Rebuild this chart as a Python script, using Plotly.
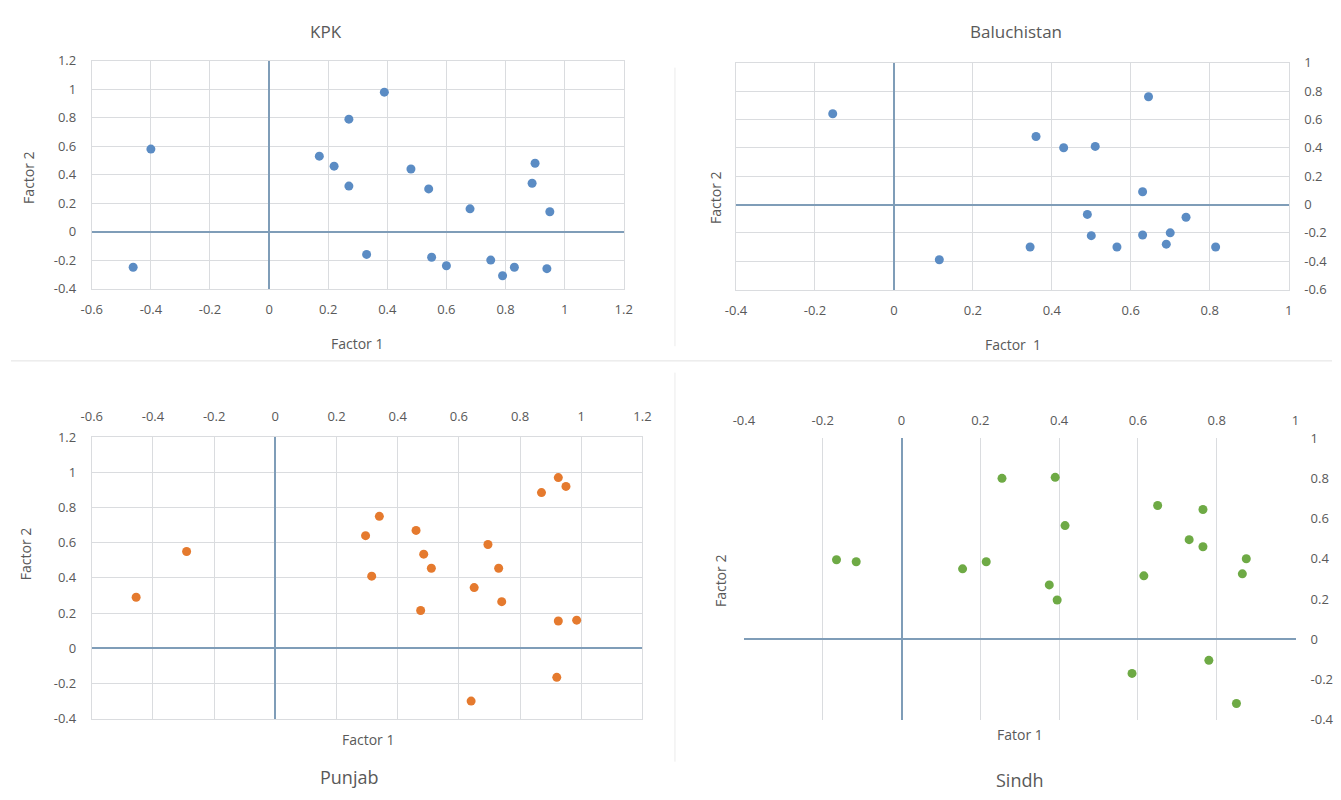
import plotly.graph_objects as go

# ---------------- data ----------------
kpk_x = [-0.46, -0.40, 0.17, 0.22, 0.27, 0.27, 0.39, 0.33, 0.48, 0.54, 0.55, 0.60, 0.68, 0.75, 0.79, 0.83, 0.89, 0.90, 0.94, 0.95]
kpk_y = [-0.25, 0.58, 0.53, 0.46, 0.79, 0.32, 0.98, -0.16, 0.44, 0.30, -0.18, -0.24, 0.16, -0.20, -0.31, -0.25, 0.34, 0.48, -0.26, 0.14]

bal_x = [-0.155, 0.645, 0.36, 0.43, 0.51, 0.63, 0.49, 0.74, 0.50, 0.63, 0.70, 0.69, 0.345, 0.565, 0.815, 0.115]
bal_y = [0.64, 0.76, 0.48, 0.40, 0.41, 0.09, -0.07, -0.09, -0.22, -0.215, -0.20, -0.28, -0.30, -0.30, -0.30, -0.39]

pun_x = [-0.455, -0.29, 0.295, 0.34, 0.315, 0.46, 0.485, 0.51, 0.475, 0.695, 0.73, 0.65, 0.74, 0.64, 0.87, 0.925, 0.95, 0.925, 0.985, 0.92]
pun_y = [0.29, 0.55, 0.64, 0.75, 0.41, 0.67, 0.535, 0.455, 0.215, 0.59, 0.455, 0.345, 0.265, -0.30, 0.885, 0.97, 0.92, 0.155, 0.16, -0.165]

sin_x = [-0.165, -0.115, 0.155, 0.215, 0.255, 0.39, 0.415, 0.375, 0.395, 0.65, 0.615, 0.585, 0.765, 0.73, 0.765, 0.78, 0.875, 0.865, 0.85]
sin_y = [0.395, 0.385, 0.35, 0.385, 0.80, 0.805, 0.565, 0.27, 0.195, 0.665, 0.315, -0.17, 0.645, 0.495, 0.46, -0.105, 0.40, 0.325, -0.32]

ticks_a = [-0.6, -0.4, -0.2, 0, 0.2, 0.4, 0.6, 0.8, 1, 1.2]
ticks_a_txt = ["-0.6", "-0.4", "-0.2", "0", "0.2", "0.4", "0.6", "0.8", "1", "1.2"]
ticks_b = [-0.4, -0.2, 0, 0.2, 0.4, 0.6, 0.8, 1]
ticks_b_txt = ["-0.4", "-0.2", "0", "0.2", "0.4", "0.6", "0.8", "1"]
ticks_c = [-0.6, -0.4, -0.2, 0, 0.2, 0.4, 0.6, 0.8, 1]
ticks_c_txt = ["-0.6", "-0.4", "-0.2", "0", "0.2", "0.4", "0.6", "0.8", "1"]

BLUE = "#5B8CC4"
ORANGE = "#E57A2E"
GREEN = "#6EAA45"
GRID = "#DADCDF"
ZERO = "#7F9DB8"
TXT = "#595959"
FONT = "Open Sans"

W, H = 1341, 800

def dom_x(a, b):
    return [a / W, b / W]

def dom_y(top, bottom):
    return [1 - bottom / H, 1 - top / H]

fig = go.Figure()

MS = 9
fig.add_trace(go.Scatter(x=kpk_x, y=kpk_y, mode="markers", xaxis="x", yaxis="y",
                         marker=dict(color=BLUE, size=MS), showlegend=False))
fig.add_trace(go.Scatter(x=bal_x, y=bal_y, mode="markers", xaxis="x2", yaxis="y2",
                         marker=dict(color=BLUE, size=MS), showlegend=False))
fig.add_trace(go.Scatter(x=pun_x, y=pun_y, mode="markers", xaxis="x3", yaxis="y3",
                         marker=dict(color=ORANGE, size=MS), showlegend=False))
fig.add_trace(go.Scatter(x=sin_x, y=sin_y, mode="markers", xaxis="x4", yaxis="y4",
                         marker=dict(color=GREEN, size=MS), showlegend=False))

tickfont = dict(family=FONT, size=13, color=TXT)

def ax(rng, tv, tt, dom, anchor, side, grid=True, line=True, standoff=10):
    return dict(range=rng, tickvals=tv, ticktext=tt, domain=dom, anchor=anchor, side=side,
                showgrid=grid, gridcolor=GRID, gridwidth=1,
                zeroline=True, zerolinecolor=ZERO, zerolinewidth=1.5,
                showline=line, linecolor=GRID, linewidth=1, mirror=line,
                ticks="", tickfont=tickfont, ticklabelstandoff=standoff,
                fixedrange=True)

layout = dict(
    width=W, height=H,
    margin=dict(l=0, r=0, t=0, b=0),
    paper_bgcolor="white", plot_bgcolor="white",
    font=dict(family=FONT, color=TXT),
    showlegend=False,
    # KPK
    xaxis=ax([-0.6, 1.2], ticks_a, ticks_a_txt, dom_x(82, 622), "y", "bottom", standoff=9),
    yaxis=ax([-0.4, 1.2], ticks_a[1:], ticks_a_txt[1:], dom_y(53, 286), "x", "left", standoff=12),
    # Baluchistan
    xaxis2=ax([-0.4, 1.0], ticks_b, ticks_b_txt, dom_x(736, 1297), "y2", "bottom", standoff=9),
    yaxis2=ax([-0.6, 1.0], ticks_c, ticks_c_txt, dom_y(55, 287), "x2", "right", standoff=12),
    # Punjab
    xaxis3=ax([-0.6, 1.2], ticks_a, ticks_a_txt, dom_x(82, 641), "y3", "top", standoff=10),
    yaxis3=ax([-0.4, 1.2], ticks_a[1:], ticks_a_txt[1:], dom_y(438, 726), "x3", "left", standoff=12),
    # Sindh
    xaxis4=ax([-0.4, 1.0], ticks_b, ticks_b_txt, dom_x(744, 1304), "y4", "top", line=False, standoff=10),
    yaxis4=ax([-0.4, 1.0], ticks_b, ticks_b_txt, dom_y(439, 727), "x4", "right", grid=False, line=False, standoff=14),
)
fig.update_layout(**layout)

def txt(x, y, s, size=14, angle=0):
    fig.add_annotation(x=x / W, y=1 - y / H, xref="paper", yref="paper", text=s,
                       showarrow=False, textangle=angle,
                       font=dict(family=FONT, size=size, color=TXT),
                       xanchor="center", yanchor="middle")

# titles
txt(320, 23, "KPK", 17)
txt(1020, 23, "Baluchistan", 17)
txt(343, 786, "Punjab", 18)
txt(1024, 789, "Sindh", 18)
# axis titles
txt(352, 342, "Factor 1")
txt(17, 172, "Factor 2", angle=-90)
txt(1017, 343, "Factor  1")
txt(715, 193, "Factor 2", angle=-90)
txt(363, 747, "Factor 1")
txt(15, 557, "Factor 2", angle=-90)
txt(1024, 742, "Fator 1")
txt(721, 585, "Factor 2", angle=-90)

# panel separators
fig.add_shape(type="line", xref="paper", yref="paper", x0=0, x1=1, y0=1 - 360 / H, y1=1 - 360 / H,
              line=dict(color="#E2E2E2", width=1))
fig.add_shape(type="line", xref="paper", yref="paper", x0=674 / W, x1=674 / W, y0=1 - 345 / H, y1=1 - 60 / H,
              line=dict(color="#EBEBEB", width=1))
fig.add_shape(type="line", xref="paper", yref="paper", x0=674 / W, x1=674 / W, y0=1 - 770 / H, y1=1 - 372 / H,
              line=dict(color="#EBEBEB", width=1))

fig.write_html("out.html", config={"displayModeBar": False},
               post_script="document.body.style.margin='0';document.body.style.overflow='hidden';")
